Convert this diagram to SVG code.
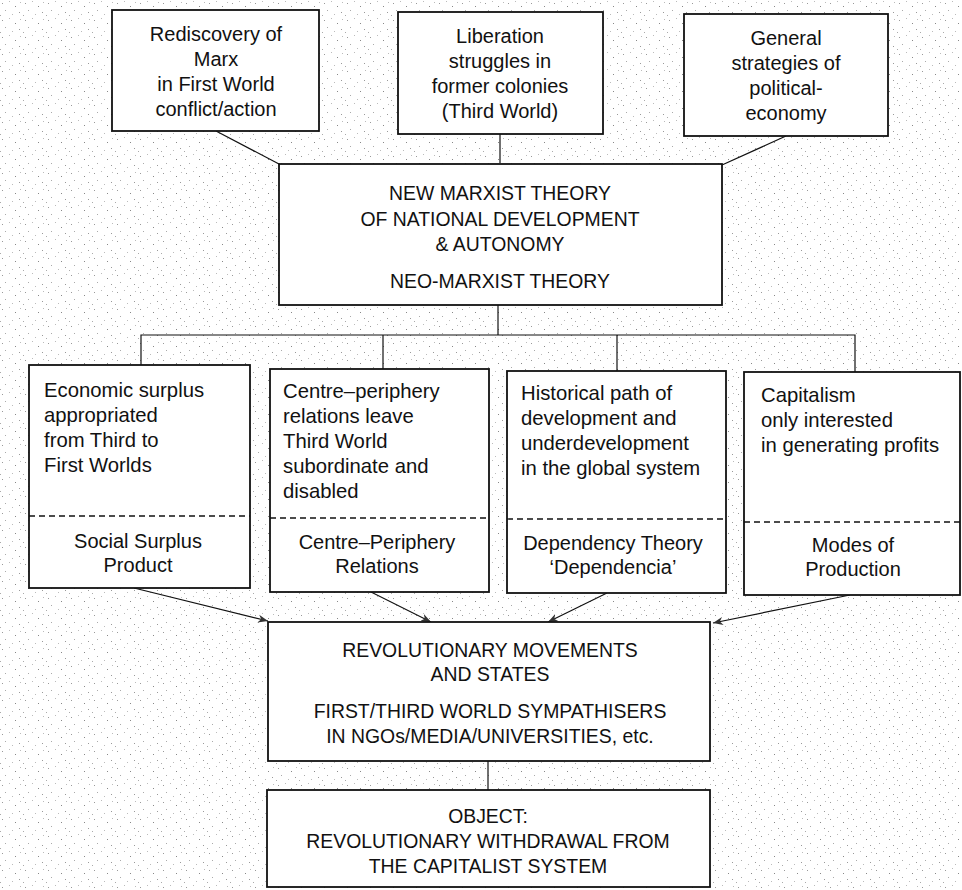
<svg xmlns="http://www.w3.org/2000/svg" width="962" height="890" viewBox="0 0 962 890">
<defs>
<pattern id="speck" width="23" height="17" patternUnits="userSpaceOnUse">
<rect width="23" height="17" fill="#ffffff"/>
<rect x="2" y="3" width="1" height="1" fill="#999"/>
<rect x="9" y="1" width="1" height="1" fill="#bbb"/>
<rect x="15" y="6" width="1" height="1" fill="#888"/>
<rect x="5" y="10" width="1" height="1" fill="#aaa"/>
<rect x="19" y="12" width="1" height="1" fill="#999"/>
<rect x="12" y="14" width="1" height="1" fill="#bbb"/>
<rect x="0" y="15" width="1" height="1" fill="#aaa"/>
<rect x="20" y="2" width="1" height="1" fill="#bbb"/>
</pattern>
<marker id="arr" viewBox="0 0 10 10" refX="10" refY="5" markerWidth="10" markerHeight="10" markerUnits="userSpaceOnUse" orient="auto">
<path d="M0,1 L10,5 L0,9 L3,5 Z" fill="#333"/>
</marker>
<style>
.box{fill:#fff;stroke:#111;stroke-width:1.8}
.ln{fill:none;stroke:#111;stroke-width:1.2}
.dash{stroke:#111;stroke-width:1.3;stroke-dasharray:6,4}
text{font-family:"Liberation Sans",Arial,sans-serif;fill:#111}
.t{font-size:20px;text-anchor:middle}
.l{font-size:20.3px}
.c{font-size:20px;text-anchor:middle}
.u{font-size:19.4px;text-anchor:middle}
</style>
</defs>
<rect width="962" height="890" fill="url(#speck)"/>

<g id="connectors">
<line class="ln" x1="216" y1="131" x2="279" y2="164"/>
<line class="ln" x1="500" y1="134" x2="500" y2="163"/>
<line class="ln" x1="786" y1="136" x2="722" y2="165"/>
<line class="ln" x1="498" y1="305" x2="498" y2="335"/>
<polyline class="ln" points="141,365 141,335 855,335 855,372"/>
<line class="ln" x1="383" y1="335" x2="383" y2="369"/>
<line class="ln" x1="617" y1="335" x2="617" y2="371"/>
<line class="ln" x1="134" y1="588" x2="268" y2="621" marker-end="url(#arr)"/>
<line class="ln" x1="371" y1="592" x2="431" y2="622" marker-end="url(#arr)"/>
<line class="ln" x1="607" y1="593" x2="548" y2="622" marker-end="url(#arr)"/>
<line class="ln" x1="850" y1="595" x2="713" y2="623" marker-end="url(#arr)"/>
<line class="ln" x1="488" y1="761" x2="488" y2="790"/>
</g>

<g id="n1">
<rect class="box" x="112" y="10" width="207" height="121"/>
<text class="t" x="216" y="41">Rediscovery of</text>
<text class="t" x="216" y="66">Marx</text>
<text class="t" x="216" y="91">in First World</text>
<text class="t" x="216" y="116">conflict/action</text>
</g>
<g id="n2">
<rect class="box" x="398" y="12" width="205" height="122"/>
<text class="t" x="500" y="43">Liberation</text>
<text class="t" x="500" y="68">struggles in</text>
<text class="t" x="500" y="93">former colonies</text>
<text class="t" x="500" y="118">(Third World)</text>
</g>
<g id="n3">
<rect class="box" x="684" y="14" width="204" height="122"/>
<text class="t" x="786" y="45">General</text>
<text class="t" x="786" y="70">strategies of</text>
<text class="t" x="786" y="95">political-</text>
<text class="t" x="786" y="120">economy</text>
</g>
<g id="n4">
<rect class="box" x="279" y="164" width="443" height="141"/>
<text class="u" x="500" y="200">NEW MARXIST THEORY</text>
<text class="u" x="500" y="226">OF NATIONAL DEVELOPMENT</text>
<text class="u" x="500" y="251">&amp; AUTONOMY</text>
<text class="u" x="500" y="288">NEO-MARXIST THEORY</text>
</g>

<g id="n5">
<rect class="box" x="29" y="365" width="221" height="223"/>
<line class="dash" x1="29" y1="516" x2="250" y2="516"/>
<text class="l" x="44" y="397">Economic surplus</text>
<text class="l" x="44" y="422">appropriated</text>
<text class="l" x="44" y="447">from Third to</text>
<text class="l" x="44" y="472">First Worlds</text>
<text class="c" x="138" y="548">Social Surplus</text>
<text class="c" x="138" y="572">Product</text>
</g>
<g id="n6">
<rect class="box" x="270" y="369" width="219" height="223"/>
<line class="dash" x1="270" y1="518" x2="489" y2="518"/>
<text class="l" x="283" y="398">Centre–periphery</text>
<text class="l" x="283" y="423">relations leave</text>
<text class="l" x="283" y="448">Third World</text>
<text class="l" x="283" y="473">subordinate and</text>
<text class="l" x="283" y="498">disabled</text>
<text class="c" x="377" y="549">Centre–Periphery</text>
<text class="c" x="377" y="573">Relations</text>
</g>
<g id="n7">
<rect class="box" x="507" y="371" width="219" height="222"/>
<line class="dash" x1="507" y1="519" x2="726" y2="519"/>
<text class="l" x="521" y="400">Historical path of</text>
<text class="l" x="521" y="425">development and</text>
<text class="l" x="521" y="450">underdevelopment</text>
<text class="l" x="521" y="475">in the global system</text>
<text class="c" x="613" y="550">Dependency Theory</text>
<text class="c" x="613" y="574">‘Dependencia’</text>
</g>
<g id="n8">
<rect class="box" x="744" y="372" width="216" height="223"/>
<line class="dash" x1="744" y1="522" x2="960" y2="522"/>
<text class="l" x="761" y="402">Capitalism</text>
<text class="l" x="761" y="427">only interested</text>
<text class="l" x="761" y="452">in generating profits</text>
<text class="c" x="853" y="552">Modes of</text>
<text class="c" x="853" y="576">Production</text>
</g>

<g id="n9">
<rect class="box" x="268" y="622" width="442" height="139"/>
<text class="u" x="490" y="657">REVOLUTIONARY MOVEMENTS</text>
<text class="u" x="490" y="681">AND STATES</text>
<text class="u" x="490" y="718">FIRST/THIRD WORLD SYMPATHISERS</text>
<text class="u" x="490" y="743">IN NGOs/MEDIA/UNIVERSITIES, etc.</text>
</g>
<g id="n10">
<rect class="box" x="267" y="790" width="443" height="97"/>
<text class="u" x="488" y="823">OBJECT:</text>
<text class="u" x="488" y="848">REVOLUTIONARY WITHDRAWAL FROM</text>
<text class="u" x="488" y="873">THE CAPITALIST SYSTEM</text>
</g>
</svg>
